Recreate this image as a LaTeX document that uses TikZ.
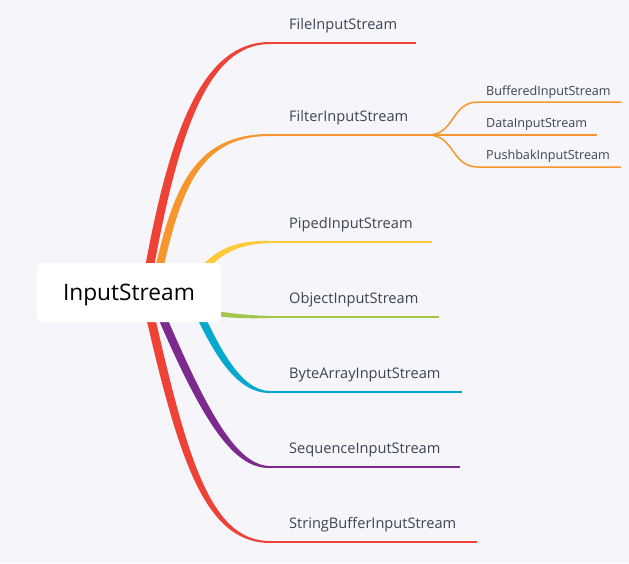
\documentclass[tikz,border=0pt]{standalone}
\usepackage{fontspec}
\setmainfont{Open Sans}
\usetikzlibrary{calc}
\definecolor{bg}{HTML}{F5F5FA}
\definecolor{txt}{HTML}{3B4456}
\definecolor{cred}{HTML}{EE4237}
\definecolor{corange}{HTML}{F8962E}
\definecolor{cyellow}{HTML}{FDCB3A}
\definecolor{cgreen}{HTML}{A2C64B}
\definecolor{cblue}{HTML}{06A9CE}
\definecolor{cpurple}{HTML}{7D2A8F}
\tikzset{
  lbl/.style={anchor=base west, inner sep=0pt, text=txt, font=\fontsize{14.6}{17}\selectfont},
  sublbl/.style={anchor=base west, inner sep=0pt, text=txt, font=\fontsize{12.6}{14}\selectfont},
  rootbox/.style={fill=white, rounded corners=6pt, minimum width=184pt, minimum height=59pt, inner sep=0pt, text depth=0pt, font=\fontsize{22.7}{26}\selectfont, text=black},
  subedge/.style={corange, line width=1.5pt},
}
% #1 colour, #2 name, #3 start x, #4 first control (x,y), #5 second control x,
% #6 end y, #7 line end x, #8 label, #9 start half width
\newcommand\mmbranch[9]{%
  \coordinate (#2-P0) at (#3,293);
  \coordinate (#2-P1) at #4;
  \coordinate (#2-P2) at (#5,#6);
  \coordinate (#2-P3) at (270,#6);
  \coordinate (#2-E) at (#7,#6);
  \coordinate (#2-L0) at ($(#2-P0)!#9!90:(#2-P1)$);
  \coordinate (#2-R0) at ($(#2-P0)!#9!-90:(#2-P1)$);
  \coordinate (#2-L1) at ($(#2-P1)+(#2-L0)-(#2-P0)$);
  \coordinate (#2-R1) at ($(#2-P1)+(#2-R0)-(#2-P0)$);
  \coordinate (#2-L3) at ($(#2-P3)!1pt!-90:(#2-P2)$);
  \coordinate (#2-R3) at ($(#2-P3)!1pt!90:(#2-P2)$);
  \coordinate (#2-L2) at ($(#2-P2)!3pt!-90:(#2-P1)$);
  \coordinate (#2-R2) at ($(#2-P2)!3pt!90:(#2-P1)$);
  \fill[#1] (#2-L0) .. controls (#2-L1) and (#2-L2) .. (#2-L3) -- (#2-R3) .. controls (#2-R2) and (#2-R1) .. (#2-R0) -- cycle;
  \draw[#1, line width=2pt] (#2-P3) -- (#2-E);
  \node[lbl] (#2-t) at (289,#6-14) {#8};
}
\begin{document}
\begin{tikzpicture}[x=1pt,y=-1pt]
\fill[bg] (0,0) rectangle (629,563);
\useasboundingbox (0,0) rectangle (629,563);
\mmbranch{cred}{file}{145}{(172.5,130.5)}{205}{43}{416}{FileInputStream}{4.4pt}
\mmbranch{corange}{filter}{154}{(175,190)}{195}{135}{428}{FilterInputStream}{4pt}
\mmbranch{cyellow}{piped}{187}{(207,259)}{226}{242}{432}{PipedInputStream}{3.6pt}
\mmbranch{cgreen}{object}{160}{(184.2,308.6)}{212.8}{317}{439}{ObjectInputStream}{3.6pt}
\mmbranch{cblue}{byte}{190}{(215,350)}{238}{392}{462}{ByteArrayInputStream}{4pt}
\mmbranch{cpurple}{seq}{152}{(205,420)}{235}{467}{460}{SequenceInputStream}{4.2pt}
\mmbranch{cred}{sb}{145}{(181,452)}{205}{542}{477}{StringBufferInputStream}{4.4pt}
% sub-branches of FilterInputStream
\coordinate (J) at (428,135);
\coordinate (buf-S) at (478,102);
\coordinate (buf-E) at (621,102);
\coordinate (data-E) at (597,135);
\coordinate (push-S) at (478,167);
\coordinate (push-E) at (621,167);
\draw[subedge] (J) .. controls (455,135) and (451,102) .. (buf-S) -- (buf-E);
\draw[subedge] (J) -- (data-E);
\draw[subedge] (J) .. controls (455,135) and (451,167) .. (push-S) -- (push-E);
\node[sublbl] (buf) at (486,95) {BufferedInputStream};
\node[sublbl] (data) at (486,127) {DataInputStream};
\node[sublbl] (push) at (486,159) {PushbakInputStream};
% root
\node[rootbox] (root) at (129,292.5) {InputStream};
\end{tikzpicture}
\end{document}
